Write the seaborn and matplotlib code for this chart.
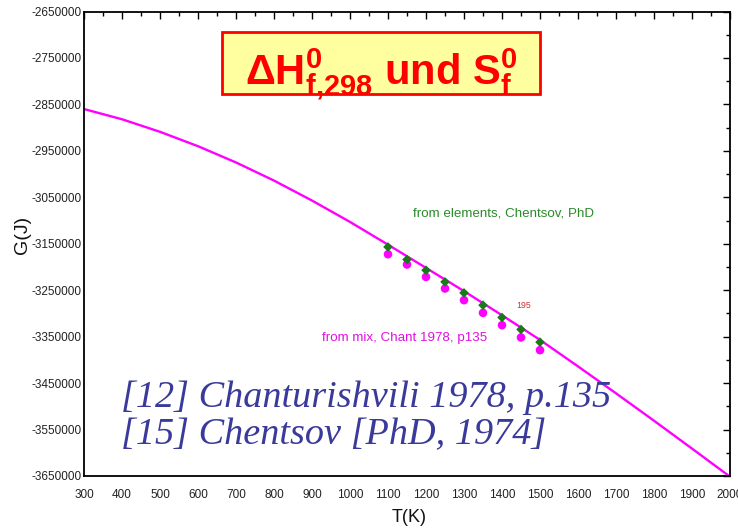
import numpy as np
import pandas as pd
import matplotlib
matplotlib.use("Agg")
import matplotlib.pyplot as plt
from matplotlib.patches import Rectangle
from matplotlib.ticker import MultipleLocator, FixedLocator
import seaborn as sns

# ---- data ----
curve_T = [300, 400, 500, 600, 700, 800, 900, 1000, 1100, 1200, 1300, 1400,
           1500, 1600, 1700, 1800, 1900, 2000]
curve_G = [-2860000, -2882000, -2909000, -2940000, -2975000, -3014000, -3057000,
           -3103000, -3152000, -3202000, -3252000, -3304000, -3357000, -3414000,
           -3472000, -3531000, -3591000, -3651500]

pts_T = [1100, 1150, 1200, 1250, 1300, 1350, 1400, 1450, 1500]
elements_G = [-3156900, -3184000, -3207000, -3232100, -3255800, -3282200,
              -3308700, -3334500, -3361800]
mix_G = [-3172600, -3194700, -3221400, -3246300, -3271500, -3298800,
         -3325300, -3351700, -3379000]

x_ticks = list(range(300, 2001, 100))
y_ticks = list(range(-3650000, -2649999, 100000))

sns.set_style("white")
plt.rcParams["font.family"] = ["Liberation Sans", "DejaVu Sans"]
plt.rcParams["mathtext.fontset"] = "custom"
plt.rcParams["mathtext.bf"] = "Liberation Sans:bold"
plt.rcParams["mathtext.rm"] = "Liberation Sans"
plt.rcParams["mathtext.it"] = "Liberation Sans:italic"

W, H = 738, 529
fig = plt.figure(figsize=(W / 100, H / 100), dpi=100)
L, R, T, B = 84, 730, 11.5, 476
ax = fig.add_axes([L / W, 1 - B / H, (R - L) / W, (B - T) / H])

curve_df = pd.DataFrame({"T": curve_T, "G": curve_G})
sns.lineplot(data=curve_df, x="T", y="G", ax=ax, color="#ff00ff", lw=1.7,
             zorder=2)
sns.scatterplot(x=pts_T, y=mix_G, ax=ax, color="#ff00ff", marker="o", s=38,
                edgecolor="none", zorder=3)
sns.scatterplot(x=pts_T, y=elements_G, ax=ax, color="#1a7a1a", marker="D",
                s=24, edgecolor="none", zorder=4)

ax.set_xlim(300, 2000)
ax.set_ylim(-3650000, -2650000)
ax.xaxis.set_major_locator(FixedLocator(x_ticks))
ax.xaxis.set_minor_locator(MultipleLocator(50))
ax.yaxis.set_major_locator(FixedLocator(y_ticks))
ax.yaxis.set_minor_locator(MultipleLocator(50000))
ax.set_xticklabels([str(v) for v in x_ticks])
ax.set_yticklabels([str(v) for v in y_ticks])
ax.tick_params(which="both", direction="in", top=True, right=True,
               color="black", labelsize=8.5, labelcolor="#222222")
ax.tick_params(which="major", length=5, width=1)
ax.tick_params(which="minor", length=3, width=1)
ax.tick_params(axis="x", which="major", pad=9)
ax.tick_params(axis="y", which="major", pad=2)
for s in ax.spines.values():
    s.set_color("black")
    s.set_linewidth(1.3)
    s.set_visible(True)

ax.set_xlabel("")
ax.set_ylabel("")
fig.text(409 / W, 1 - 518 / H, "T(K)", ha="center", va="center", fontsize=13,
         color="#111111")
fig.text(22 / W, 1 - 235 / H, "G(J)", ha="center", va="center", fontsize=14,
         rotation=90, color="#111111")

# annotations
ax.text(1166, -3084000, "from elements, Chentsov, PhD", color="#2a8a2a",
        fontsize=9.6, ha="left", va="center")
ax.text(926, -3353000, "from mix, Chant 1978, p135", color="#e010e0",
        fontsize=9.6, ha="left", va="center")
ax.text(1437, -3282000, "195", color="#cc3333", fontsize=6.3, ha="left",
        va="center")

cite_color = "#3a3a9a"
fig.text(121 / W, 1 - 398 / H, "[12] Chanturishvili 1978, p.135",
         color=cite_color, fontsize=27.5, ha="left", va="center",
         family="Liberation Serif", style="italic")
fig.text(121 / W, 1 - 435 / H, "[15] Chentsov [PhD, 1974]",
         color=cite_color, fontsize=27.5, ha="left", va="center",
         family="Liberation Serif", style="italic")

# title box
fig.patches.append(Rectangle((222 / W, 1 - 94 / H), 318 / W, 62 / H,
                             transform=fig.transFigure, facecolor="#ffffa0",
                             edgecolor="#ff0000", linewidth=2, zorder=5))
fig.text(381 / W, 1 - 83.5 / H,
         r"$\mathbf{\Delta H^0_{f{,}298}}$ und $\mathbf{S^0_f}$",
         color="#ff0000", fontsize=30, fontweight="bold", ha="center",
         va="baseline", zorder=6)

fig.savefig("out.png", dpi=100, facecolor="white")
